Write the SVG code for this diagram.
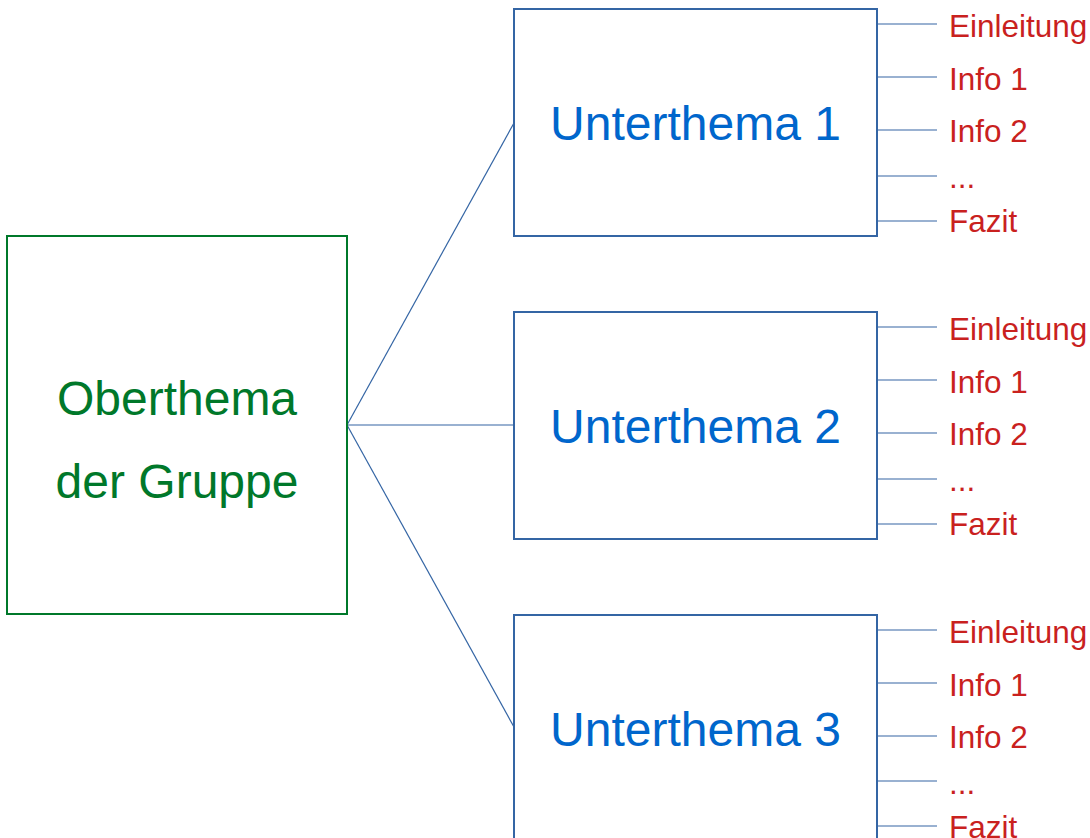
<svg xmlns="http://www.w3.org/2000/svg" width="1090" height="838" viewBox="0 0 1090 838">
<style>
.box{fill:#fff;stroke:#3465a4;stroke-width:2}
.main{fill:#fff;stroke:#00782a;stroke-width:2}
.c{stroke:#3465a4;stroke-width:1.2;fill:none}
.t{font-family:"Liberation Sans",Arial,sans-serif;font-size:48px;fill:#0066cc;text-anchor:middle}
.g{font-family:"Liberation Sans",Arial,sans-serif;font-size:48px;fill:#00782a;text-anchor:middle}
.l{font-family:"Liberation Sans",Arial,sans-serif;font-size:31.5px;fill:#c9211e}
</style>
<rect width="1090" height="838" fill="#fff"/>
<g id="connectors">
<line class="c" x1="347" y1="425" x2="514" y2="123"/>
<line class="c" x1="347" y1="425" x2="514" y2="425"/>
<line class="c" x1="347" y1="425" x2="514" y2="727"/>
<line class="c" x1="877" y1="24" x2="937" y2="24"/>
<line class="c" x1="877" y1="77" x2="937" y2="77"/>
<line class="c" x1="877" y1="130" x2="937" y2="130"/>
<line class="c" x1="877" y1="176" x2="937" y2="176"/>
<line class="c" x1="877" y1="221" x2="937" y2="221"/>
<line class="c" x1="877" y1="327" x2="937" y2="327"/>
<line class="c" x1="877" y1="380" x2="937" y2="380"/>
<line class="c" x1="877" y1="433" x2="937" y2="433"/>
<line class="c" x1="877" y1="479" x2="937" y2="479"/>
<line class="c" x1="877" y1="524" x2="937" y2="524"/>
<line class="c" x1="877" y1="630" x2="937" y2="630"/>
<line class="c" x1="877" y1="683" x2="937" y2="683"/>
<line class="c" x1="877" y1="736" x2="937" y2="736"/>
<line class="c" x1="877" y1="781" x2="937" y2="781"/>
<line class="c" x1="877" y1="826" x2="937" y2="826"/>
</g>
<g id="oberthema">
<rect class="main" x="7" y="236" width="340" height="378"/>
<text class="g" x="177" y="415">Oberthema</text>
<text class="g" x="177" y="498">der Gruppe</text>
</g>
<g id="unterthema1">
<rect class="box" x="514" y="9" width="363" height="227"/>
<text class="t" x="695.5" y="140">Unterthema 1</text>
</g>
<g id="unterthema2">
<rect class="box" x="514" y="312" width="363" height="227"/>
<text class="t" x="695.5" y="443">Unterthema 2</text>
</g>
<g id="unterthema3">
<rect class="box" x="514" y="615" width="363" height="227"/>
<text class="t" x="695.5" y="746">Unterthema 3</text>
</g>
<g id="labels1">
<text class="l" x="949" y="37">Einleitung</text>
<text class="l" x="949" y="90">Info 1</text>
<text class="l" x="949" y="142">Info 2</text>
<text class="l" x="949" y="188">...</text>
<text class="l" x="949" y="232">Fazit</text>
</g>
<g id="labels2">
<text class="l" x="949" y="340">Einleitung</text>
<text class="l" x="949" y="393">Info 1</text>
<text class="l" x="949" y="445">Info 2</text>
<text class="l" x="949" y="491">...</text>
<text class="l" x="949" y="535">Fazit</text>
</g>
<g id="labels3">
<text class="l" x="949" y="643">Einleitung</text>
<text class="l" x="949" y="696">Info 1</text>
<text class="l" x="949" y="748">Info 2</text>
<text class="l" x="949" y="794">...</text>
<text class="l" x="949" y="838">Fazit</text>
</g>
</svg>
